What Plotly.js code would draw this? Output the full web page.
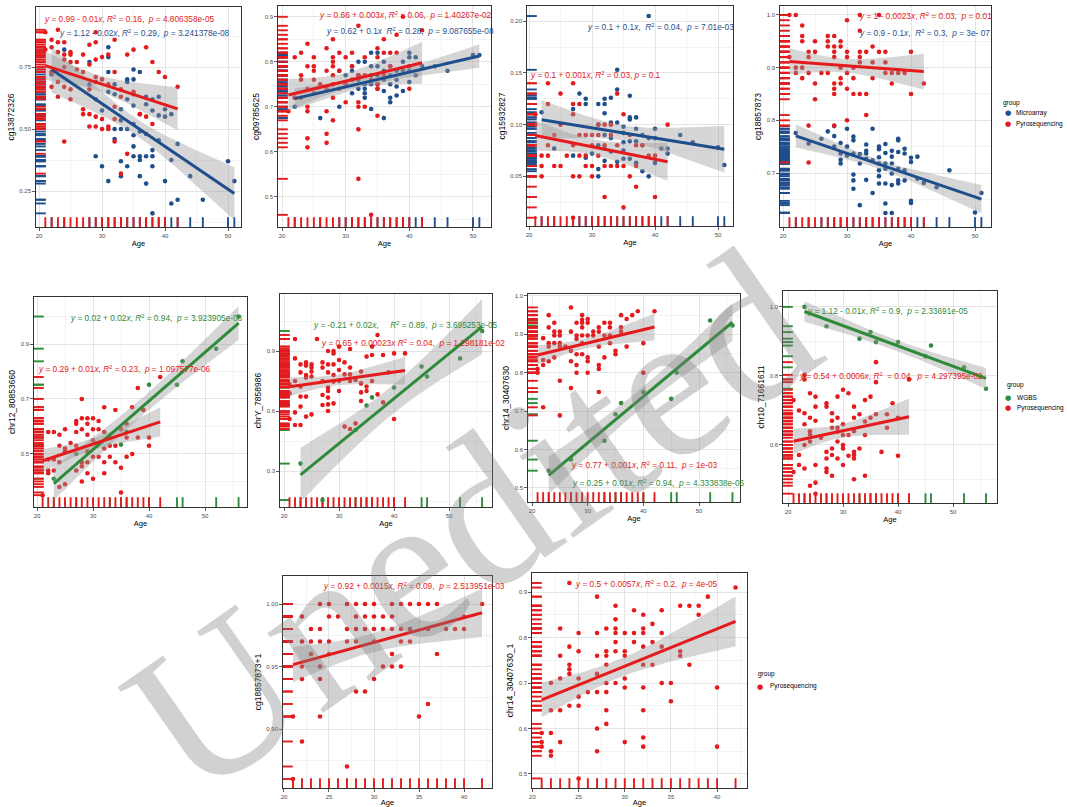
<!DOCTYPE html>
<html>
<head>
<meta charset="utf-8">
<script src="https://cdn.plot.ly/plotly-3.0.1.min.js"></script>
<style>html,body{margin:0;padding:0;background:#fff;}#chart{width:1067px;height:807px;}</style>
</head>
<body>
<div id="chart"></div>
<script>
// ================= DATA =================
const pyroAges = [21,22,23,24,25,26,27,28,29,30,31,32,33,34,35,36,37,38,39,40,42];
const wgbsAges = [23,27,33,35,36,40,45,46,52,56];

// Panel 1: cg13872326
const p1Pyro = [[0.89,0.82],[0.86,0.83,0.73,0.67],[0.90,0.85,0.81,0.69,0.63],[0.85,0.80,0.78,0.75,0.67,0.45],[0.81,0.80,0.77,0.66,0.62],[0.77,0.74],[0.80,0.73,0.58,0.56],[0.84,0.76,0.66,0.56,0.51],[0.89,0.85,0.78,0.71,0.69,0.55,0.51],[0.79,0.70,0.54,0.50],[0.80,0.68,0.51,0.50],[0.86,0.73,0.59,0.54,0.45],[0.66,0.63,0.32],[0.80,0.40],[0.82,0.65],[0.56],[0.83,0.55],[0.77,0.52],[0.73],[0.71],[0.67]];
const p1MicroAges = [22,24,28,29,30,31,32,33,34,35,36,37,38,39,40,41,42,44,46,50,51];
const p1Micro = [[0.73,0.72],[0.82],[0.77,0.68],[0.62,0.39],[0.575,0.35],[0.83,0.79,0.73,0.65,0.29],[0.68,0.64,0.50,0.46],[0.58,0.535,0.50,0.37,0.31],[0.70,0.69,0.62,0.50,0.35],[0.74,0.70,0.64,0.595,0.52,0.475,0.43,0.39],[0.73,0.56,0.49,0.39,0.375,0.31],[0.63,0.60,0.48,0.39,0.28],[0.62,0.575,0.415,0.39,0.35,0.16],[0.63,0.555,0.455],[0.58,0.55,0.29],[0.56,0.375,0.20],[0.44,0.215],[0.31],[0.215],[0.37],[0.29]];

// Panel 2: cg09785625
const p2Pyro = [[0.69],[0.81,0.72],[0.82,0.77,0.76,0.72],[0.84,0.79,0.74,0.70,0.69,0.63,0.61],[0.81,0.79,0.78,0.76,0.73],[0.75],[0.83,0.78,0.74,0.69,0.64,0.62],[0.85,0.81,0.80,0.79,0.77,0.75,0.72,0.67],[0.82,0.78,0.74],[0.81,0.75,0.71],[0.82,0.79,0.76],[0.88,0.77,0.71,0.70,0.65,0.54],[0.81,0.77,0.70],[0.76,0.46],[0.83,0.81,0.75,0.74,0.68],[0.85,0.82,0.77],[0.82,0.79],[0.86,0.82],[0.90],[0.79,0.74],[0.87]];
const p2MicroAges = [22,26,29,30,31,32,33,34,35,36,37,38,39,40,41,42,44,46,50,51];
const p2Micro = [[0.72,0.70],[0.675],[0.78,0.70],[0.77,0.75],[0.79,0.78,0.76,0.73],[0.80,0.77,0.76,0.74],[0.80,0.75,0.74,0.73,0.72],[0.82,0.79,0.77,0.75,0.695],[0.82,0.79,0.77,0.75,0.74],[0.80,0.78,0.76,0.735,0.675],[0.79,0.77,0.75,0.72,0.71],[0.78,0.76,0.745,0.725],[0.80,0.78,0.735],[0.82,0.81,0.78,0.755],[0.81,0.77],[0.79],[0.79],[0.78],[0.815],[0.815]];

// Panel 3: cg15932827
const p3Pyro = [[0.11,0.10],[0.07,0.06,0.05],[0.14,0.12,0.08,0.07],[0.09,0.06],[0.13,0.10,0.06],[0.07],[0.14,0.12,0.11,0.08,0.05,0.01],[0.12,0.09,0.07,0.05],[0.09,0.07,0.06],[0.09,0.08,0.06,0.05],[0.10,0.09,0.07],[0.10,0.08,0.06,0.03],[0.10,0.09,0.06],[0.13,0.08,0.06],[0.11,0.06,0.02],[0.09,0.05],[0.08,0.06,0.04],[0.08],[0.07],[0.07,0.03],[0.10]];
const p3MicroAges = [22,24,27,28,29,30,31,32,33,34,35,36,37,38,39,40,41,42,44,46,50,51];
const p3Micro = [[0.112],[0.077],[0.115,0.07],[0.13],[0.125,0.12,0.068],[0.072],[0.12,0.10,0.08,0.057,0.05],[0.125,0.12,0.111,0.09,0.077,0.065],[0.126,0.102,0.087,0.074],[0.153,0.134,0.102,0.064],[0.098,0.092,0.083,0.075,0.067],[0.128,0.107,0.105,0.084,0.067],[0.107,0.096,0.084,0.063],[0.09,0.08,0.055],[0.205,0.087,0.05],[0.096,0.087,0.063],[0.077],[0.077,0.072],[0.09],[0.083],[0.078],[0.061]];

// Panel 4: cg18857873
const p4Pyro = [[1.0,0.92],[1.0,0.90,0.89],[0.98,0.96,0.95,0.90,0.88],[0.93,0.92,0.89,0.79,0.72],[0.95,0.93,0.87,0.84],[0.89],[0.96,0.95,0.94,0.89],[0.96,0.94,0.93,0.92,0.87,0.86,0.85,0.79],[0.95,0.94,0.90,0.88,0.87],[0.99,0.93,0.92,0.89,0.86,0.80],[0.90,0.88,0.85],[1.0,0.97,0.93,0.92,0.91,0.85],[0.93,0.85,0.81],[0.94,0.91,0.88],[1.0,0.93],[0.93,0.91,0.89],[0.89,0.87],[0.89],[0.89],[0.93,0.85],[0.87]];
const p4MicroAges = [22,24,26,27,28,29,30,31,32,33,34,35,36,37,38,39,40,41,42,44,46,50,51];
const p4Micro = [[0.776],[0.756],[0.765],[0.779],[0.789,0.77,0.75],[0.757,0.737,0.725,0.718],[0.784,0.75,0.733],[0.769,0.762,0.737,0.697,0.686,0.67],[0.736,0.718,0.639],[0.754,0.742,0.737,0.727,0.687],[0.784,0.724,0.662],[0.75,0.745,0.73,0.718,0.705,0.694,0.68],[0.755,0.738,0.718,0.708,0.68,0.642,0.624],[0.742,0.731,0.718,0.699,0.677,0.624],[0.765,0.762,0.74,0.708,0.686,0.68],[0.746,0.737,0.705,0.686],[0.729,0.721,0.647,0.643],[0.731,0.689],[0.681],[0.673],[0.705],[0.625],[0.662]];

// Panel 5: chr12_80853660
const p5Pyro = [[0.35],[0.58,0.48,0.44,0.43],[0.58,0.48,0.44],[0.57,0.53,0.47,0.38],[0.59,0.52,0.51,0.39],[0.54],[0.62,0.61,0.58,0.53,0.44],[0.70,0.63,0.59,0.47,0.455,0.40],[0.63,0.61,0.57,0.51,0.47,0.43],[0.63,0.59,0.55,0.49,0.41],[0.62,0.59,0.49],[0.67,0.58,0.52,0.47,0.43],[0.53,0.49],[0.66,0.53,0.47],[0.59,0.45,0.36],[0.61,0.56,0.49],[0.67,0.50],[0.74,0.56],[0.66],[0.56,0.53],[0.78]];
const p5Wgbs = [0.41,0.50,0.56,0.534,0.58,0.752,0.752,0.837,0.883,1.0];

// Panel 6: chrY_7858986
const p6Pyro = [[0.733,0.688,0.56],[0.96,0.863,0.75,0.593,0.53],[0.833,0.793,0.722,0.672,0.622,0.53],[0.843,0.827,0.78,0.767,0.672,0.572],[0.833,0.817,0.797,0.772,0.583],[0.96],[0.843,0.817,0.75,0.68,0.63],[0.90,0.833,0.793,0.717,0.70,0.667,0.633,0.60],[0.90,0.888,0.833,0.78,0.747,0.638],[0.922,0.855,0.805,0.75,0.70],[0.843,0.783,0.522],[0.91,0.817,0.783,0.75,0.51],[0.755,0.538],[0.797,0.738,0.693,0.65],[0.872,0.722,0.70],[0.922,0.88,0.75],[0.98,0.683],[0.88,0.643],[0.793],[0.888,0.56],[0.888]];
const p6Wgbs = [0.337,0.155,0.505,0.627,0.668,0.717,0.822,0.772,0.863,1.0];

// Panel 7: chr14_30407630
const p7Pyro = [[0.81,0.80],[0.89,0.833,0.82,0.71],[0.95,0.918,0.877,0.868,0.83],[0.93,0.907,0.897,0.877,0.84],[0.907,0.897,0.877,0.868,0.779,0.689],[0.868],[0.97,0.907,0.857,0.83,0.76],[0.93,0.897,0.888,0.848,0.82,0.80],[0.95,0.938,0.93,0.918,0.897,0.877,0.848],[0.94,0.93,0.897,0.84,0.83,0.80],[0.907,0.897],[0.918,0.907,0.868,0.82,0.81,0.75],[0.93,0.897,0.84],[0.93,0.918,0.897,0.877],[0.857,0.848],[0.95,0.918,0.907],[0.94,0.868],[0.95],[0.96],[0.877,0.80],[0.96]];
const p7Wgbs = [0.545,0.574,0.623,0.692,0.721,0.75,0.732,0.80,0.936,0.923];

// Panel 8: chr10_71661611
const p8Pyro = [[0.73,0.522],[0.70,0.571,0.542],[0.803,0.79,0.692,0.66,0.60,0.532],[0.75,0.679,0.64,0.631,0.61,0.482],[0.74,0.711,0.67,0.542,0.491,0.459],[0.621],[0.721,0.711,0.58,0.561,0.532,0.522],[0.692,0.67,0.65,0.59,0.571,0.511],[0.74,0.679,0.65,0.639,0.61,0.561],[0.76,0.66,0.629,0.60,0.59,0.542],[0.75,0.629,0.569],[0.711,0.679,0.64,0.58,0.571,0.561,0.501],[0.689,0.59],[0.73,0.668,0.629,0.511],[0.74,0.679],[0.84,0.782,0.689],[0.58],[0.689,0.65],[0.721],[0.679,0.569],[0.79]];
const p8Wgbs = [1.0,0.944,0.908,0.927,0.898,0.898,0.857,0.888,0.825,0.763];

// Panel 9: cg18857873+1
const p9Pyro = [[0.91,0.86],[0.99,0.97,0.95,0.94,0.89],[0.98,0.97,0.96],[1.00,0.98,0.97,0.95,0.94,0.91],[1.00,0.99,0.97,0.96],[0.99],[1.00,0.98,0.97,0.87],[1.00,0.99,0.98,0.97,0.93],[1.00,0.99,0.98,0.93],[1.00,0.99,0.98,0.97,0.94],[0.99,0.98,0.95],[1.00,0.99,0.98,0.96,0.95],[1.00,0.98,0.97,0.95],[1.00,0.98,0.97],[1.00,0.91],[1.00,0.98,0.92],[1.00,0.96],[0.98],[0.98],[0.99,0.98],[1.00]];

// Panel 10: chr14_30407630_1
const p10Pyro = [[0.59,0.57,0.56],[0.70,0.64,0.59,0.55,0.54],[0.82,0.76,0.71,0.64,0.57],[0.92,0.78,0.74,0.73,0.72,0.65],[0.81,0.77,0.71,0.67,0.65,0.49],[0.68],[0.89,0.81,0.76,0.72,0.68,0.60,0.55],[0.82,0.77,0.76,0.74,0.70,0.68,0.64,0.61],[0.87,0.84,0.82,0.81,0.79,0.77,0.70],[0.81,0.77,0.76,0.71,0.69,0.57],[0.86,0.81,0.79],[0.85,0.82,0.81,0.78,0.74,0.69,0.64,0.58,0.56],[0.83,0.79,0.74],[0.86,0.81,0.78,0.70],[0.70,0.66],[0.87,0.77,0.76],[0.87,0.74],[0.87,0.85],[0.89],[0.69,0.56],[0.91]];

// Axis titles and tick labels
const yTitles = ['cg13872326','cg09785625','cg15932827','cg18857873','chr12_80853660','chrY_7858986','chr14_30407630','chr10_71661611','cg18857873+1','chr14_30407630_1'];
const xTickLabels = [['20','30','40','50'],['20','30','40','50'],['20','30','40','50'],['20','30','40','50'],['20','30','40','50'],['20','30','40','50'],['20','30','40','50'],['20','30','40','50'],['20','25','30','35','40'],['20','25','30','35','40']];
const yTickLabels = [['0.25','0.50','0.75'],['0.5','0.6','0.7','0.8','0.9'],['0.05','0.10','0.15','0.20'],['0.7','0.8','0.9','1.0'],['0.5','0.7','0.9'],['0.3','0.6','0.9'],['0.5','0.6','0.7','0.8','0.9','1.0'],['0.6','0.8','1.0'],['0.90','0.95','1.00'],['0.5','0.6','0.7','0.8','0.9']];

// Equation labels
const eqTexts = [
 'y = 0.99 - 0.01x, R2 = 0.16,  p = 4.806358e-05',
 'y = 1.12 - 0.02x, R2 = 0.29,  p = 3.241378e-08',
 'y = 0.66 + 0.003x, R2 = 0.06,  p = 1.40267e-02',
 'y = 0.62 + 0.1x  R2 = 0.28,  p = 9.087655e-08',
 'y = 0.1 + 0.1x,  R2 = 0.04,  p = 7.01e-03',
 'y = 0.1 + 0.001x, R2 = 0.03, p = 0.1',
 'y = 1 - 0.0023x, R2 = 0.03,  p = 0.01',
 'y = 0.9 - 0.1x,  R2 = 0.3,  p = 3e- 07',
 'y = 0.02 + 0.02x, R2 = 0.94,  p = 3.923905e-06',
 'y = 0.29 + 0.01x, R2 = 0.23,  p = 1.097577e-06',
 'y = -0.21 + 0.02x,     R2 = 0.89,  p = 3.695253e-05',
 'y = 0.65 + 0.00023x R2 = 0.04,  p = 1.298181e-02',
 'y = 0.77 + 0.001x, R2 = 0.11,  p = 1e-03',
 'y = 0.25 + 0.01x, R2 = 0.94,  p = 4.333838e-06',
 'y = 1.12 - 0.01x, R2 = 0.9,  p = 2.33691e-05',
 'y = 0.54 + 0.0006x, R2  = 0.04,  p = 4.297395e-02',
 'y = 0.92 + 0.0015x, R2 = 0.09,  p = 2.513951e-03',
 'y = 0.5 + 0.0057x, R2 = 0.2,  p = 4e-05'
];
const eqGroup = ['Pyrosequencing','Microarray','Pyrosequencing','Microarray','Microarray','Pyrosequencing','Pyrosequencing','Microarray','WGBS','Pyrosequencing','WGBS','Pyrosequencing','Pyrosequencing','WGBS','WGBS','Pyrosequencing','Pyrosequencing','Pyrosequencing'];
const legendTitle = 'group';
const legendEntries = [['Microarray','Pyrosequencing'],['WGBS','Pyrosequencing'],['Pyrosequencing']];

// ================= STYLE / LAYOUT =================
const W = 1067, H = 807;
const FONT = 'Liberation Sans, Arial, sans-serif';
const COLORS = {Microarray:'#1F4E8C', Pyrosequencing:'#E41A1C', WGBS:'#2E8B3A'};

// frame boxes in px: [left, right, top, bottom]
const boxes = [[36,241,7,227],[278,491,6,227],[527,733,6,226],[780,991,6,227],[34,247,297,507],[280,492,294,507],[528,740,294,502],[783,997,291,503],[283,492,576,788],[532,747,573,788]];
const xRanges = [[19.52,52.06],[19.37,52.83],[19.68,52.38],[19.53,52.5],[19.46,57.5],[19.27,57.8],[19.28,57.36],[19.09,58.0],[19.89,43.11],[19.95,43.24]];
const yRanges = [[0.105,0.992],[0.433,0.924],[0.002,0.2147],[0.5975,1.017],[0.307,1.071],[0.12,1.185],[0.4635,1.005],[0.432,1.046],[0.8528,1.0224],[0.469,0.942]];
const eqLeft = [42,57,317,324,585,528,857,857,68,36,311,319,569,570,805,797,321,573];
const eqMidY = [19,33,15,31,27,75,16,33,318,369,325,343,465,483,311,376,586,584];
// legend blocks: [title left, title y, key centre x, text left, first row y, row step]
const legendPos = [[1001,103,1008,1014,113,11],[1005,385,1008,1015,397,10.5],[756,674,760,768,686,11]];

const panelGroups = [
  [['Microarray',p1MicroAges,p1Micro],['Pyrosequencing',pyroAges,p1Pyro]],
  [['Microarray',p2MicroAges,p2Micro],['Pyrosequencing',pyroAges,p2Pyro]],
  [['Microarray',p3MicroAges,p3Micro],['Pyrosequencing',pyroAges,p3Pyro]],
  [['Microarray',p4MicroAges,p4Micro],['Pyrosequencing',pyroAges,p4Pyro]],
  [['WGBS',wgbsAges,p5Wgbs.map(v=>[v])],['Pyrosequencing',pyroAges,p5Pyro]],
  [['WGBS',wgbsAges,p6Wgbs.map(v=>[v])],['Pyrosequencing',pyroAges,p6Pyro]],
  [['WGBS',wgbsAges,p7Wgbs.map(v=>[v])],['Pyrosequencing',pyroAges,p7Pyro]],
  [['WGBS',wgbsAges,p8Wgbs.map(v=>[v])],['Pyrosequencing',pyroAges,p8Pyro]],
  [['Pyrosequencing',pyroAges,p9Pyro]],
  [['Pyrosequencing',pyroAges,p10Pyro]]
];

// ================= HELPERS =================
function expand(ages, vals){const x=[],y=[];ages.forEach((a,i)=>vals[i].forEach(v=>{x.push(a);y.push(v);}));return {x,y};}
function tq(df){const z=1.959964,z3=z**3,z5=z**5,z7=z**7;return z+(z3+z)/(4*df)+(5*z5+16*z3+3*z)/(96*df*df)+(3*z7+19*z5+17*z3-15*z)/(384*df**3);}
function lmBand(x,y){
  const n=x.length; const mx=x.reduce((s,v)=>s+v,0)/n, my=y.reduce((s,v)=>s+v,0)/n;
  let sxx=0,sxy=0; for(let i=0;i<n;i++){sxx+=(x[i]-mx)**2; sxy+=(x[i]-mx)*(y[i]-my);}
  const b=sxy/sxx, a=my-b*mx; let sse=0; for(let i=0;i<n;i++) sse+=(y[i]-a-b*x[i])**2;
  const s=Math.sqrt(sse/(n-2)), t=tq(n-2); const x0=Math.min(...x), x1=Math.max(...x);
  const xs=[],yh=[],up=[],lo=[];
  for(let k=0;k<=60;k++){const xv=x0+(x1-x0)*k/60, f=a+b*xv, se=s*Math.sqrt(1/n+(xv-mx)**2/sxx); xs.push(xv); yh.push(f); up.push(f+t*se); lo.push(f-t*se);}
  return {xs,yh,up,lo};
}
function minorVals(ticks, range){const st=ticks[1]-ticks[0]; let v=ticks[0]-st/2; while(v-st>=range[0]) v-=st; const out=[]; for(;v<=range[1]+1e-9;v+=st){ if(v>=range[0]-1e-9) out.push(+v.toFixed(6)); } return out;}
function eqHtml(s){return s.replace(/^y/,'<i>y</i>').replace(/(\d)x/,'$1<i>x</i>').replace('R2','<i>R</i><sup>2</sup>').replace(/ p =/,' <i>p</i> =').replace(/  /g,' &nbsp;');}
function pText(px, py, text, opts){return Object.assign({xref:'paper', yref:'paper', x:px/W, y:1-py/H, xanchor:'left', yanchor:'middle', showarrow:false, text}, opts);}

// ================= BUILD =================
const traces = [];
const layout = {
  width: W, height: H, margin:{l:0,r:0,t:0,b:0}, paper_bgcolor:'#ffffff', plot_bgcolor:'#ffffff',
  font:{family:FONT, color:'#000'}, hovermode:false, showlegend:false, annotations:[]
};

panelGroups.forEach((groups, i) => {
  const sfx = i===0 ? '' : String(i+1);
  const xa = 'x'+sfx, ya = 'y'+sfx;
  const [L,R,T,B] = boxes[i];
  const xr = xRanges[i], yr = yRanges[i];
  const xt = xTickLabels[i].map(Number), yt = yTickLabels[i].map(Number);
  const common = {showline:true, mirror:true, linecolor:'#333333', linewidth:1.3, ticks:'outside', ticklen:2.5, tickwidth:0.8, tickcolor:'#333333',
    tickfont:{size:6, color:'#4D4D4D', family:FONT}, showgrid:true, gridcolor:'#E4E4E4', gridwidth:1, zeroline:false, fixedrange:true};
  layout['xaxis'+sfx] = Object.assign({}, common, {domain:[L/W, R/W], range:xr, anchor:ya, tickmode:'array', tickvals:xt, ticktext:xTickLabels[i],
    minor:{tickmode:'array', tickvals:minorVals(xt, xr), showgrid:true, gridcolor:'#F0F0F0', gridwidth:0.8, ticks:''},
    title:{text:'Age', font:{size:7.5, color:'#000', family:FONT}, standoff:2}});
  layout['yaxis'+sfx] = Object.assign({}, common, {domain:[1-B/H, 1-T/H], range:yr, anchor:xa, tickmode:'array', tickvals:yt, ticktext:yTickLabels[i],
    minor:{tickmode:'array', tickvals:minorVals(yt, yr), showgrid:true, gridcolor:'#F0F0F0', gridwidth:0.8, ticks:''},
    title:{text:yTitles[i], font:{size:8.5, color:'#000', family:FONT}, standoff:3}});

  const data = groups.map(([name, ages, vals]) => Object.assign({name, ages}, expand(ages, vals)));
  // rugs
  data.forEach(d => {
    const c = COLORS[d.name];
    traces.push({type:'scatter', mode:'markers', xaxis:xa, yaxis:ya, x:d.y.map(()=>xr[0]), y:d.y, showlegend:false, cliponaxis:true,
      marker:{symbol:'line-ew', size:14, line:{color:c, width:1.9}}, hoverinfo:'skip'});
    traces.push({type:'scatter', mode:'markers', xaxis:xa, yaxis:ya, x:d.ages, y:d.ages.map(()=>yr[0]), showlegend:false, cliponaxis:true,
      marker:{symbol:'line-ns', size:14, line:{color:c, width:1.9}}, hoverinfo:'skip'});
  });
  // points
  data.forEach(d => {
    traces.push({type:'scatter', mode:'markers', xaxis:xa, yaxis:ya, x:d.x, y:d.y, name:d.name,
      marker:{color:COLORS[d.name], size:4.6, line:{width:0}}, showlegend:false});
  });
  // smooth bands + lines
  const fits = data.map(d => lmBand(d.x, d.y));
  fits.forEach(f => {
    traces.push({type:'scatter', mode:'lines', xaxis:xa, yaxis:ya, x:f.xs.concat(f.xs.slice().reverse()), y:f.up.concat(f.lo.slice().reverse()),
      fill:'toself', fillcolor:'rgba(153,153,153,0.4)', line:{width:0}, showlegend:false, hoverinfo:'skip'});
  });
  fits.forEach((f, k) => {
    traces.push({type:'scatter', mode:'lines', xaxis:xa, yaxis:ya, x:f.xs, y:f.yh, line:{color:COLORS[data[k].name], width:3}, showlegend:false, hoverinfo:'skip'});
  });
});

eqTexts.forEach((s, j) => {
  layout.annotations.push(pText(eqLeft[j], eqMidY[j], eqHtml(s), {font:{size:8.3, color:COLORS[eqGroup[j]], family:FONT}}));
});

// group legends (title, coloured key glyph, label)
legendEntries.forEach((entries, b) => {
  const [tx, ty, kx, lx, ry, step] = legendPos[b];
  layout.annotations.push(pText(tx, ty, legendTitle, {font:{size:6.5, color:'#000', family:FONT}}));
  entries.forEach((name, r) => {
    const yy = ry + r*step;
    layout.annotations.push(pText(kx, yy, '\u25CF', {xanchor:'center', font:{size:7.2, color:COLORS[name], family:'DejaVu Sans, sans-serif'}}));
    layout.annotations.push(pText(lx, yy, name, {font:{size:6.5, color:'#000', family:FONT}}));
  });
});

// watermark
layout.annotations.push({xref:'paper', yref:'paper', x:470/W, y:1-522/H, xanchor:'center', yanchor:'middle', showarrow:false, textangle:-35,
  text:'Unedited', font:{size:212, color:'rgba(128,128,128,0.36)', family:'Liberation Serif, Times New Roman, serif'}});

Plotly.newPlot('chart', traces, layout, {displayModeBar:false, staticPlot:true});
</script>
</body>
</html>
